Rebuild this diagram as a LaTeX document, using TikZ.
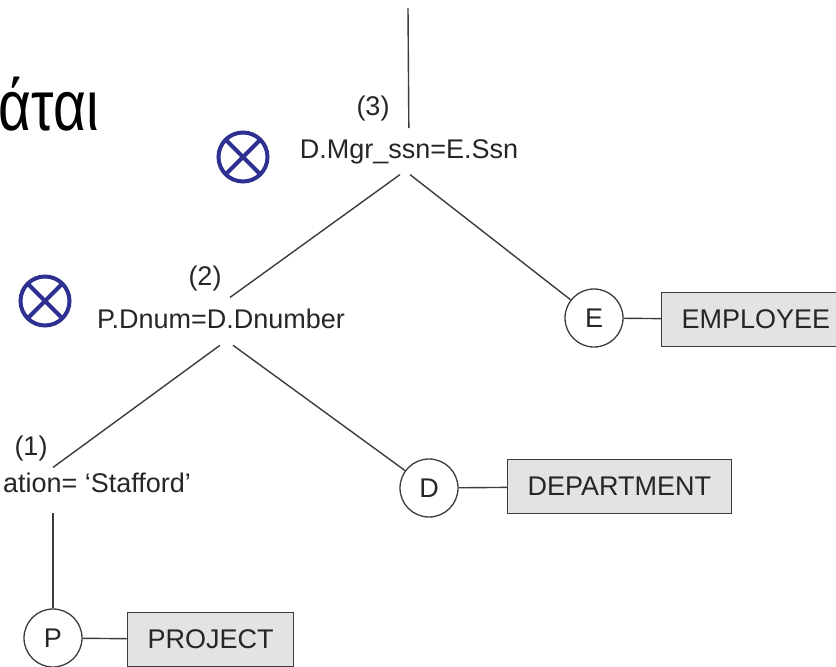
\documentclass[tikz,border=0pt]{standalone}
\usepackage{fontspec}
\setmainfont{Liberation Sans}
\definecolor{treeline}{HTML}{3C3C3C}
\definecolor{textgray}{HTML}{262626}
\definecolor{opblue}{HTML}{2E3192}
\definecolor{relfill}{HTML}{E3E3E3}
\newcommand{\treefont}{\fontsize{27}{32}\selectfont}
\tikzset{
  cond/.style={font=\treefont, text=textgray, inner sep=0pt, outer sep=11pt, anchor=base},
  stepno/.style={font=\treefont, text=textgray, inner sep=0pt, anchor=base},
  varnode/.style={circle, draw=treeline, line width=1.3pt, fill=white, minimum size=58pt, inner sep=0pt, font=\treefont, text=textgray},
  relbox/.style={draw=treeline, line width=1.3pt, fill=relfill, minimum height=54pt, inner xsep=20pt, anchor=west, font=\treefont, text=textgray},
  joinmark/.style={circle, draw=opblue, line width=4pt, minimum size=49pt, inner sep=0pt,
    path picture={\draw[opblue, line width=4pt] (path picture bounding box.north west) -- (path picture bounding box.south east)
      (path picture bounding box.north east) -- (path picture bounding box.south west);}},
  branch/.style={draw=treeline, line width=1.4pt}
}
\begin{document}
\begin{tikzpicture}[x=1pt,y=-1pt]
 \useasboundingbox (0,0) rectangle (836,667);
 \clip (0,0) rectangle (836,667);
 \node[anchor=base east, inner sep=0pt, xscale=0.8, transform shape, font=\fontsize{71}{76}\selectfont] (title) at (99,130) {άται};
 \coordinate (top) at (408,8);
 \node[cond] (n3) at (409,158) {D.Mgr\_ssn=E.Ssn};
 \node[cond] (n2) at (221,328) {P.Dnum=D.Dnumber};
 \node[cond, anchor=base east] (n1) at (202,492) {ation= `Stafford'};
 \node[stepno] (s3) at (373,115) {(3)};
 \node[stepno] (s2) at (205,285) {(2)};
 \node[stepno] (s1) at (31,455) {(1)};
 \node[joinmark] (j3) at (243,157) {};
 \node[joinmark] (j2) at (45,301) {};
 \node[varnode] (E) at (594,318) {E};
 \node[varnode] (D) at (429,488) {D};
 \node[varnode] (P) at (53,638) {P};
 \node[relbox] (emp) at (661,319.5) {EMPLOYEE};
 \node[relbox] (dept) at (507,486.5) {DEPARTMENT};
 \node[relbox] (proj) at (127,639.5) {PROJECT};
 \draw[branch] (n3) -- (top);
 \draw[branch] ([xshift=-9pt]n3.south) -- ([xshift=9pt]n2.north);
 \draw[branch] ([xshift=1pt]n3.south) -- (E);
 \draw[branch] ([xshift=-1pt,yshift=-6pt]n2.south) -- ([yshift=-6pt]P |- n1.north);
 \draw[branch] ([xshift=12pt,yshift=-6pt]n2.south) -- (D);
 \draw[branch] ([yshift=-10pt]P |- n1.south) -- (P);
 \draw[branch] (E) -- (emp);
 \draw[branch] (D) -- (dept);
 \draw[branch] (P) -- (proj);
\end{tikzpicture}
\end{document}
